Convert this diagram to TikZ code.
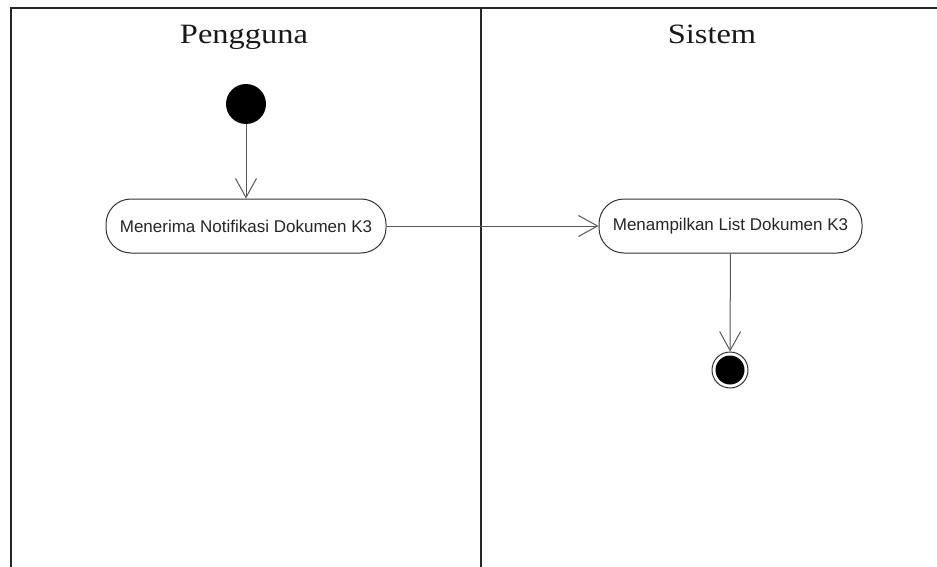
\documentclass[tikz,border=0pt]{standalone}
\usepackage{fontspec}
\setmainfont{Liberation Serif}
\setsansfont{Liberation Sans}
\newfontfamily\lanefont[FakeStretch=1.16]{Liberation Serif}
\usetikzlibrary{arrows.meta}
\begin{document}
\begin{tikzpicture}[x=1pt,y=-1pt,
  frame/.style={draw=black!85, line width=1.6pt},
  lanetitle/.style={font=\lanefont\fontsize{28}{30}\selectfont, anchor=base, inner sep=0pt, text=black!90},
  action/.style={draw=black!80, line width=1pt, rounded corners=25pt, minimum height=54pt, inner xsep=8pt,
     font=\sffamily\fontsize{17}{18}\selectfont, text=black!85},
  flow/.style={draw=black!65, line width=1pt, -{Straight Barb[length=19pt,width=21pt,line width=1pt]}},
  startnode/.style={circle, fill=black, minimum size=40pt, inner sep=0pt},
]
\useasboundingbox (0,0) rectangle (937,567);
\fill[white] (0,0) rectangle (937,567);
% swimlane frame
\coordinate (tl) at (11,8);
\coordinate (tr) at (937,8);
\coordinate (bl) at (11,567);
\coordinate (mt) at (481,8);
\coordinate (mb) at (481,567);
\draw[frame] (bl) -- (tl) -- (tr);
\draw[frame] (mt) -- (mb);
\node[lanetitle] (t1) at (244,44) {Pengguna};
\node[lanetitle] (t2) at (712,44) {Sistem};
% nodes
\node[startnode] (start) at (246,104) {};
\node[action, minimum width=280pt] (a1) at (246,226) {Menerima Notifikasi Dokumen K3};
\node[action, minimum width=263pt] (a2) at (730.5,226) {Menampilkan List Dokumen K3};
\node[circle, draw=black!80, line width=1pt, fill=white, minimum size=36pt, inner sep=0pt] (end) at (730,370) {};
\node[circle, fill=black, minimum size=29pt, inner sep=0pt] (endin) at (end.center) {};
% flows
\draw[flow] (start) -- (a1);
\draw[flow] (a1) -- (a2);
\draw[flow] (a2) -- (end);
\end{tikzpicture}
\end{document}
